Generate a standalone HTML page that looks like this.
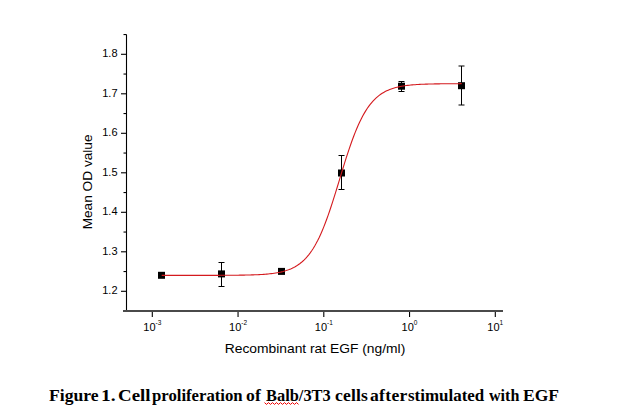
<!DOCTYPE html>
<html><head><meta charset="utf-8"><style>
html,body{margin:0;padding:0;background:#fff;width:640px;height:417px;overflow:hidden}
svg{position:absolute;left:0;top:0}
.cap{position:absolute;font-family:"Liberation Serif",serif;font-weight:bold;font-size:16px;white-space:nowrap;color:#000;top:386.4px;line-height:20px;transform-origin:0 0}
</style></head><body>
<svg width="640" height="417" viewBox="0 0 640 417">
<g stroke="#000" stroke-width="1.1" fill="none">
<line x1="126.5" y1="34.5" x2="126.5" y2="311"/>
<line x1="121" y1="291.30" x2="126.5" y2="291.30"/><line x1="123.5" y1="271.55" x2="126.5" y2="271.55"/><line x1="121" y1="251.80" x2="126.5" y2="251.80"/><line x1="123.5" y1="232.05" x2="126.5" y2="232.05"/><line x1="121" y1="212.30" x2="126.5" y2="212.30"/><line x1="123.5" y1="192.55" x2="126.5" y2="192.55"/><line x1="121" y1="172.80" x2="126.5" y2="172.80"/><line x1="123.5" y1="153.05" x2="126.5" y2="153.05"/><line x1="121" y1="133.30" x2="126.5" y2="133.30"/><line x1="123.5" y1="113.55" x2="126.5" y2="113.55"/><line x1="121" y1="93.80" x2="126.5" y2="93.80"/><line x1="123.5" y1="74.05" x2="126.5" y2="74.05"/><line x1="121" y1="54.30" x2="126.5" y2="54.30"/><line x1="123.5" y1="34.55" x2="126.5" y2="34.55"/>
<line x1="152.30" y1="311" x2="152.30" y2="317"/><line x1="238.05" y1="311" x2="238.05" y2="317"/><line x1="323.80" y1="311" x2="323.80" y2="317"/><line x1="409.55" y1="311" x2="409.55" y2="317"/><line x1="495.30" y1="311" x2="495.30" y2="317"/>
</g>
<line x1="123" y1="311" x2="503" y2="311" stroke="#4a4a4a" stroke-width="2"/>
<g stroke="#000" stroke-width="1"><line x1="221.5" y1="262.5" x2="221.5" y2="286.5"/><line x1="218.5" y1="262.5" x2="224.5" y2="262.5"/><line x1="218.5" y1="286.5" x2="224.5" y2="286.5"/><line x1="341.5" y1="155.5" x2="341.5" y2="189.5"/><line x1="338.5" y1="155.5" x2="344.5" y2="155.5"/><line x1="338.5" y1="189.5" x2="344.5" y2="189.5"/><line x1="401.5" y1="81.5" x2="401.5" y2="91.5"/><line x1="398.5" y1="81.5" x2="404.5" y2="81.5"/><line x1="398.5" y1="91.5" x2="404.5" y2="91.5"/><line x1="461.5" y1="66" x2="461.5" y2="105"/><line x1="458.5" y1="66" x2="464.5" y2="66"/><line x1="458.5" y1="105" x2="464.5" y2="105"/></g>
<g fill="#000"><rect x="158.0" y="271.8" width="7" height="7"/><rect x="218.0" y="270.4" width="7" height="7"/><rect x="278.0" y="267.9" width="7" height="7"/><rect x="338.0" y="169.5" width="7" height="7"/><rect x="398.0" y="82.7" width="7" height="7"/><rect x="458.0" y="82.2" width="7" height="7"/></g>
<path d="M161.7,275.37 L163.2,275.37 L164.7,275.37 L166.2,275.37 L167.7,275.37 L169.2,275.37 L170.7,275.37 L172.2,275.37 L173.7,275.37 L175.2,275.37 L176.7,275.37 L178.2,275.37 L179.7,275.37 L181.2,275.37 L182.7,275.37 L184.2,275.37 L185.7,275.37 L187.2,275.37 L188.7,275.37 L190.2,275.37 L191.7,275.37 L193.2,275.36 L194.7,275.36 L196.2,275.36 L197.7,275.36 L199.2,275.36 L200.7,275.36 L202.2,275.36 L203.7,275.36 L205.2,275.35 L206.7,275.35 L208.2,275.35 L209.7,275.35 L211.2,275.34 L212.7,275.34 L214.2,275.34 L215.7,275.33 L217.2,275.33 L218.7,275.33 L220.2,275.32 L221.7,275.31 L223.2,275.31 L224.7,275.30 L226.2,275.29 L227.7,275.29 L229.2,275.28 L230.7,275.26 L232.2,275.25 L233.7,275.24 L235.2,275.23 L236.7,275.21 L238.2,275.19 L239.7,275.17 L241.2,275.15 L242.7,275.13 L244.2,275.10 L245.7,275.07 L247.2,275.04 L248.7,275.00 L250.2,274.96 L251.7,274.92 L253.2,274.87 L254.7,274.81 L256.2,274.75 L257.7,274.68 L259.2,274.61 L260.7,274.53 L262.2,274.44 L263.7,274.33 L265.2,274.22 L266.7,274.10 L268.2,273.96 L269.7,273.81 L271.2,273.64 L272.7,273.45 L274.2,273.25 L275.7,273.02 L277.2,272.77 L278.7,272.49 L280.2,272.18 L281.7,271.84 L283.2,271.47 L284.7,271.05 L286.2,270.60 L287.7,270.09 L289.2,269.53 L290.7,268.92 L292.2,268.25 L293.7,267.50 L295.2,266.69 L296.7,265.79 L298.2,264.81 L299.7,263.73 L301.2,262.55 L302.7,261.26 L304.2,259.85 L305.7,258.32 L307.2,256.65 L308.7,254.83 L310.2,252.86 L311.7,250.73 L313.2,248.43 L314.7,245.95 L316.2,243.29 L317.7,240.44 L319.2,237.40 L320.7,234.16 L322.2,230.73 L323.7,227.10 L325.2,223.28 L326.7,219.28 L328.2,215.10 L329.7,210.76 L331.2,206.27 L332.7,201.65 L334.2,196.92 L335.7,192.10 L337.2,187.22 L338.7,182.29 L340.2,177.35 L341.7,172.42 L343.2,167.53 L344.7,162.70 L346.2,157.95 L347.7,153.32 L349.2,148.81 L350.7,144.45 L352.2,140.25 L353.7,136.23 L355.2,132.38 L356.7,128.73 L358.2,125.27 L359.7,122.01 L361.2,118.94 L362.7,116.06 L364.2,113.38 L365.7,110.88 L367.2,108.56 L368.7,106.40 L370.2,104.41 L371.7,102.58 L373.2,100.89 L374.7,99.34 L376.2,97.91 L377.7,96.61 L379.2,95.41 L380.7,94.32 L382.2,93.33 L383.7,92.42 L385.2,91.59 L386.7,90.84 L388.2,90.16 L389.7,89.54 L391.2,88.98 L392.7,88.46 L394.2,88.00 L395.7,87.58 L397.2,87.20 L398.7,86.86 L400.2,86.54 L401.7,86.26 L403.2,86.01 L404.7,85.78 L406.2,85.57 L407.7,85.38 L409.2,85.21 L410.7,85.05 L412.2,84.91 L413.7,84.79 L415.2,84.68 L416.7,84.57 L418.2,84.48 L419.7,84.40 L421.2,84.32 L422.7,84.25 L424.2,84.19 L425.7,84.14 L427.2,84.09 L428.7,84.04 L430.2,84.00 L431.7,83.96 L433.2,83.93 L434.7,83.90 L436.2,83.87 L437.7,83.85 L439.2,83.83 L440.7,83.81 L442.2,83.79 L443.7,83.77 L445.2,83.76 L446.7,83.74 L448.2,83.73 L449.7,83.72 L451.2,83.71 L452.7,83.70 L454.2,83.70 L455.7,83.69 L457.2,83.68 L458.7,83.68 L460.2,83.67 L461.7,83.67" fill="none" stroke="#d41a1e" stroke-width="1.1"/>
<g font-family="Liberation Sans, sans-serif" font-size="11" fill="#000">
<text x="117.5" y="293.70" text-anchor="end">1.2</text><text x="117.5" y="255.00" text-anchor="end">1.3</text><text x="117.5" y="214.70" text-anchor="end">1.4</text><text x="117.5" y="176.00" text-anchor="end">1.5</text><text x="117.5" y="135.70" text-anchor="end">1.6</text><text x="117.5" y="97.00" text-anchor="end">1.7</text><text x="117.5" y="56.70" text-anchor="end">1.8</text>
<text x="152.30" y="331" text-anchor="middle">10<tspan font-size="6.5" dy="-6">-3</tspan></text><text x="238.05" y="331" text-anchor="middle">10<tspan font-size="6.5" dy="-6">-2</tspan></text><text x="323.80" y="331" text-anchor="middle">10<tspan font-size="6.5" dy="-6">-1</tspan></text><text x="409.55" y="331" text-anchor="middle">10<tspan font-size="6.5" dy="-6">0</tspan></text><text x="495.30" y="331" text-anchor="middle">10<tspan font-size="6.5" dy="-6">1</tspan></text>
</g>
<text transform="translate(315,353.3) scale(1.065,1)" text-anchor="middle" font-family="Liberation Sans, sans-serif" font-size="13" fill="#000">Recombinant rat EGF (ng/ml)</text>
<text transform="translate(91.6,181.9) rotate(-90) scale(1.052,1)" text-anchor="middle" font-family="Liberation Sans, sans-serif" font-size="13" fill="#000">Mean OD value</text>
<path d="M264.5,402.6 l2,1.8 l2,-1.8 l2,1.8 l2,-1.8 l2,1.8 l2,-1.8 l2,1.8 l2,-1.8 l2,1.8 l2,-1.8 l2,1.8 l2,-1.8 l2,1.8 l2,-1.8 l2,1.8 l2,-1.8 l2,1.8" fill="none" stroke="#f00000" stroke-width="1"/>
</svg>
<span class="cap" style="left:49.00px;letter-spacing:0.009px;transform:scaleX(1.1000)">Figure</span><span class="cap" style="left:101.0px;letter-spacing:0px;transform:scaleX(1.22)">1.</span><span class="cap" style="left:117.6px;letter-spacing:0px;transform:scaleX(1.18)">Cell</span><span class="cap" style="left:151.90px;letter-spacing:-0.000px;transform:scaleX(1.0437)">proliferation</span><span class="cap" style="left:245.80px;letter-spacing:0.182px;transform:scaleX(1.1000)">of</span><span class="cap" style="left:265.60px;letter-spacing:0.000px;transform:scaleX(1.0254)">Balb/3T3</span><span class="cap" style="left:334.50px;letter-spacing:0.148px;transform:scaleX(1.1000)">cells</span><span class="cap" style="left:369.50px;letter-spacing:0.284px;transform:scaleX(1.1000)">after</span><span class="cap" style="left:408.34px;letter-spacing:0.000px;transform:scaleX(1.0585)">stimulated</span><span class="cap" style="left:489.40px;letter-spacing:0.000px;transform:scaleX(1.0050)">with</span><span class="cap" style="left:522.65px;letter-spacing:0.000px;transform:scaleX(1.0952)">EGF</span>
</body></html>
